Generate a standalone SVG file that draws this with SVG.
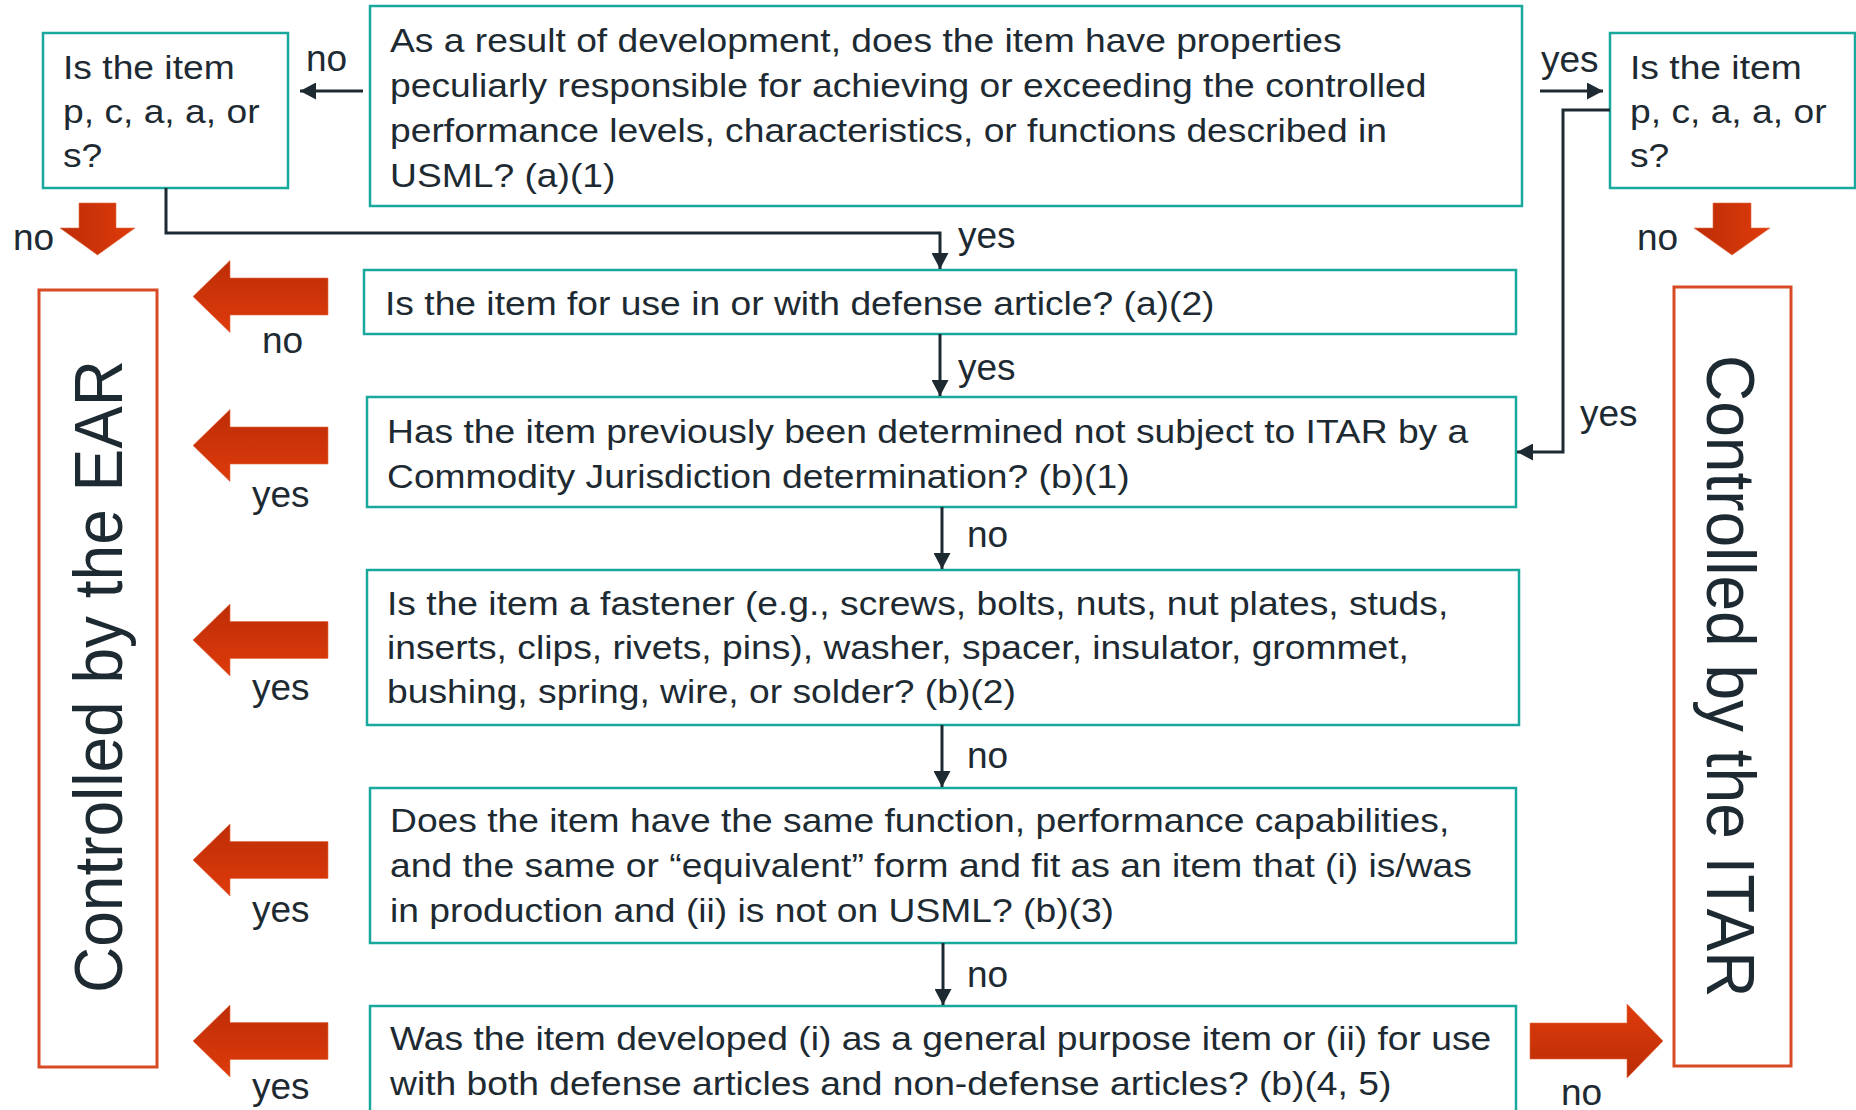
<svg xmlns="http://www.w3.org/2000/svg" width="1856" height="1110" viewBox="0 0 1856 1110">
<style>
.box{fill:#ffffff;stroke:#19a89c;stroke-width:2.5}
.ctl{fill:#ffffff;stroke:#d84a25;stroke-width:3}
.t{font-family:"Liberation Sans",Arial,sans-serif;font-size:34px;fill:#1e2a32}
.big{font-family:"Liberation Sans",Arial,sans-serif;font-size:64px;fill:#1e2a32}
.lbl{font-family:"Liberation Sans",Arial,sans-serif;font-size:37px;fill:#1e2a32}
.con{fill:none;stroke:#1e2a32;stroke-width:3}
.ar{stroke:#e26a45;stroke-width:1;stroke-opacity:0.6}
</style>
<defs>
<marker id="ah" markerUnits="userSpaceOnUse" markerWidth="16" markerHeight="17" refX="16" refY="8.5" orient="auto">
<path d="M0,0 L16,8.5 L0,17 z" fill="#1e2a32"/>
</marker>
<linearGradient id="gL" x1="0" y1="0" x2="0" y2="1"><stop offset="0" stop-color="#bd2d07"/><stop offset="1" stop-color="#de3b0b"/></linearGradient>
<linearGradient id="gD" x1="0" y1="0" x2="1" y2="0"><stop offset="0" stop-color="#bd2d07"/><stop offset="1" stop-color="#de3b0b"/></linearGradient>
<linearGradient id="gR" x1="0" y1="0" x2="0" y2="1"><stop offset="0" stop-color="#de3b0b"/><stop offset="1" stop-color="#bb2d07"/></linearGradient>
</defs>
<rect width="1856" height="1110" fill="#ffffff"/>

<g id="q-a1">
<rect class="box" x="370" y="6" width="1152" height="200"/>
<text class="t" transform="translate(390,52) scale(1.095 1)"><tspan x="0" y="0">As a result of development, does the item have properties</tspan><tspan x="0" y="45">peculiarly responsible for achieving or exceeding the controlled</tspan><tspan x="0" y="90">performance levels, characteristics, or functions described in</tspan><tspan x="0" y="135">USML? (a)(1)</tspan></text>
</g>

<g id="pcaas-left">
<rect class="box" x="43" y="33" width="245" height="155"/>
<text class="t" transform="translate(63,79) scale(1.095 1)"><tspan x="0" y="0">Is the item</tspan><tspan x="0" y="44">p, c, a, a, or</tspan><tspan x="0" y="88">s?</tspan></text>
</g>

<g id="pcaas-right">
<rect class="box" x="1610" y="33" width="245" height="155"/>
<text class="t" transform="translate(1630,79) scale(1.095 1)"><tspan x="0" y="0">Is the item</tspan><tspan x="0" y="44">p, c, a, a, or</tspan><tspan x="0" y="88">s?</tspan></text>
</g>

<g id="q-a2">
<rect class="box" x="364" y="270" width="1152" height="64"/>
<text class="t" transform="translate(385,315) scale(1.095 1)">Is the item for use in or with defense article? (a)(2)</text>
</g>

<g id="q-b1">
<rect class="box" x="367" y="397" width="1149" height="110"/>
<text class="t" transform="translate(387,443) scale(1.095 1)"><tspan x="0" y="0">Has the item previously been determined not subject to ITAR by a</tspan><tspan x="0" y="45">Commodity Jurisdiction determination? (b)(1)</tspan></text>
</g>

<g id="q-b2">
<rect class="box" x="367" y="570" width="1152" height="155"/>
<text class="t" transform="translate(387,615) scale(1.095 1)"><tspan x="0" y="0">Is the item a fastener (e.g., screws, bolts, nuts, nut plates, studs,</tspan><tspan x="0" y="44">inserts, clips, rivets, pins), washer, spacer, insulator, grommet,</tspan><tspan x="0" y="88">bushing, spring, wire, or solder? (b)(2)</tspan></text>
</g>

<g id="q-b3">
<rect class="box" x="370" y="788" width="1146" height="155"/>
<text class="t" transform="translate(390,832) scale(1.095 1)"><tspan x="0" y="0">Does the item have the same function, performance capabilities,</tspan><tspan x="0" y="45">and the same or “equivalent” form and fit as an item that (i) is/was</tspan><tspan x="0" y="90">in production and (ii) is not on USML? (b)(3)</tspan></text>
</g>

<g id="q-b45">
<rect class="box" x="370" y="1006" width="1146" height="130"/>
<text class="t" transform="translate(390,1050) scale(1.095 1)"><tspan x="0" y="0">Was the item developed (i) as a general purpose item or (ii) for use</tspan><tspan x="0" y="45">with both defense articles and non-defense articles? (b)(4, 5)</tspan></text>
</g>

<g id="ear">
<rect class="ctl" x="39" y="290" width="118" height="777"/>
<text class="big" transform="translate(122,993) scale(1.08 1) rotate(-90)">Controlled by the EAR</text>
</g>

<g id="itar">
<rect class="ctl" x="1674" y="287" width="117" height="779"/>
<text class="big" transform="translate(1707,355) scale(1.08 1) rotate(90)">Controlled by the ITAR</text>
</g>

<g id="connectors">
<path class="con" d="M363,91 H300" marker-end="url(#ah)"/>
<path class="con" d="M166,188 V233 H940 V269" marker-end="url(#ah)"/>
<path class="con" d="M1540,91 H1603" marker-end="url(#ah)"/>
<path class="con" d="M1610,110 H1563 V452 H1517" marker-end="url(#ah)"/>
<path class="con" d="M940,334 V396" marker-end="url(#ah)"/>
<path class="con" d="M942,507 V569" marker-end="url(#ah)"/>
<path class="con" d="M942,725 V787" marker-end="url(#ah)"/>
<path class="con" d="M943,943 V1005" marker-end="url(#ah)"/>

<polygon class="ar" fill="url(#gD)" points="79,203 116,203 116,228 135,228 97.5,255 60,228 79,228"/>
<polygon class="ar" fill="url(#gD)" points="1713,203 1751,203 1751,228 1770,228 1732,255 1694,228 1713,228"/>
<polygon class="ar" fill="url(#gL)" points="193,296.5 230,260.5 230,278 328,278 328,315 230,315 230,332.5"/>
<polygon class="ar" fill="url(#gL)" points="193,445.5 230,409.5 230,427 328,427 328,464 230,464 230,481.5"/>
<polygon class="ar" fill="url(#gL)" points="193,640 230,604 230,621.5 328,621.5 328,658.5 230,658.5 230,676"/>
<polygon class="ar" fill="url(#gL)" points="193,860 230,824 230,841.5 328,841.5 328,878.5 230,878.5 230,896"/>
<polygon class="ar" fill="url(#gL)" points="193,1041 230,1005 230,1022.5 328,1022.5 328,1059.5 230,1059.5 230,1077"/>
<polygon class="ar" fill="url(#gR)" points="1530,1023 1627,1023 1627,1004 1663,1041 1627,1078 1627,1059 1530,1059"/>

<text class="lbl" x="306" y="71">no</text>
<text class="lbl" x="958" y="248">yes</text>
<text class="lbl" x="1541" y="72">yes</text>
<text class="lbl" x="958" y="380">yes</text>
<text class="lbl" x="1580" y="426">yes</text>
<text class="lbl" x="967" y="547">no</text>
<text class="lbl" x="967" y="768">no</text>
<text class="lbl" x="967" y="987">no</text>
<text class="lbl" x="13" y="250">no</text>
<text class="lbl" x="1637" y="250">no</text>
<text class="lbl" x="262" y="353">no</text>
<text class="lbl" x="252" y="507">yes</text>
<text class="lbl" x="252" y="700">yes</text>
<text class="lbl" x="252" y="922">yes</text>
<text class="lbl" x="252" y="1099">yes</text>
<text class="lbl" x="1561" y="1105">no</text>
</g>
</svg>
